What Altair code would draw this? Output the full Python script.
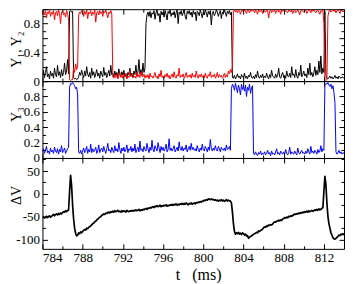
import altair as alt
import pandas as pd

T_START = 784.0
T_STEP = 0.1

# Y1 (black), in hundredths, one row per ms, sampled every 0.1 ms
y1_black = [
    8, 15, 5, 12, 20, 6, 10, 3, 14, 7,
    11, 4, 18, 9, 6, 22, 8, 13, 5, 16,
    7, 12, 25, 9, 14, 30, 10, 97, 98, 96,
    97, 5, 3, 4, 2, 3, 6, 12, 8, 15,
    9, 5, 14, 7, 20, 10, 6, 12, 4, 18,
    8, 13, 5, 10, 16, 7, 11, 4, 14, 9,
    6, 19, 8, 12, 5, 10, 15, 7, 22, 9,
    11, 6, 14, 8, 12, 5, 17, 9, 7, 13,
    8, 15, 6, 10, 4, 12, 9, 18, 7, 11,
    5, 14, 9, 22, 7, 12, 30, 10, 16, 8,
    25, 12, 18, 80, 92, 96, 90, 97, 88, 95,
    93, 98, 86, 95, 99, 91, 94, 82, 97, 92,
    96, 89, 98, 93, 85, 97, 94, 99, 90, 95,
    92, 97, 88, 95, 99, 80, 96, 93, 98, 91,
    95, 99, 90, 86, 97, 94, 98, 92, 96, 89,
    98, 93, 96, 84, 97, 95, 91, 99, 94, 88,
    96, 92, 99, 95, 89, 97, 93, 98, 78, 95,
    97, 91, 94, 99, 96, 90, 95, 98, 87, 96,
    93, 99, 95, 90, 97, 94, 98, 92, 96, 5,
    4, 8, 3, 6, 10, 5, 7, 3, 9, 6,
    5, 11, 4, 7, 3, 8, 6, 12, 5, 4,
    7, 3, 9, 5, 14, 6, 4, 8, 5, 10,
    4, 7, 5, 11, 6, 3, 9, 5, 15, 7,
    6, 4, 10, 5, 8, 18, 6, 4, 9, 12,
    5, 8, 4, 14, 7, 6, 11, 5, 20, 8,
    10, 5, 16, 7, 4, 12, 8, 22, 6, 9,
    14, 7, 10, 5, 18, 9, 25, 8, 12, 6,
    11, 20, 8, 15, 9, 28, 12, 35, 10, 18,
    12, 97, 8, 4, 3, 5, 7, 4, 6, 3,
    5, 8, 4, 6, 3, 7, 5, 4, 6, 5,
    4,
]

# Y2 (red), in hundredths
y2_red = [
    95, 97, 92, 98, 88, 96, 94, 99, 90, 96,
    93, 98, 85, 95, 97, 91, 99, 94, 80, 96,
    97, 92, 95, 89, 98, 94, 85, 2, 1, 2,
    2, 18, 12, 24, 16, 21, 92, 96, 94, 98,
    95, 90, 97, 93, 99, 87, 96, 94, 98, 91,
    96, 93, 99, 82, 95, 97, 92, 98, 94, 96,
    90, 97, 95, 99, 93, 88, 96, 94, 98, 93,
    6, 4, 8, 5, 10, 3, 7, 12, 5, 8,
    4, 9, 6, 11, 3, 7, 5, 14, 6, 8,
    10, 5, 7, 4, 12, 6, 9, 5, 13, 7,
    6, 10, 4, 8, 5, 9, 3, 11, 6, 7,
    4, 8, 12, 5, 7, 3, 10, 6, 15, 5,
    7, 4, 9, 6, 11, 5, 8, 3, 7, 10,
    5, 13, 6, 4, 9, 7, 18, 5, 8, 6,
    10, 4, 7, 12, 5, 8, 6, 9, 4, 11,
    6, 8, 5, 14, 7, 4, 9, 6, 10, 5,
    8, 5, 11, 6, 4, 9, 7, 13, 5, 8,
    6, 10, 4, 7, 12, 5, 9, 6, 8, 4,
    7, 11, 5, 9, 6, 14, 10, 16, 12, 20,
    97, 99, 96, 98, 95, 99, 97, 93, 98, 99,
    96, 99, 97, 94, 99, 98, 95, 99, 97, 100,
    98, 95, 99, 97, 93, 99, 96, 98, 99, 94,
    99, 97, 96, 99, 98, 88, 97, 99, 95, 98,
    97, 99, 94, 98, 99, 96, 98, 93, 99, 97,
    99, 96, 98, 97, 95, 99, 98, 96, 99, 94,
    98, 99, 95, 97, 99, 96, 92, 98, 99, 97,
    96, 98, 99, 94, 97, 99, 98, 95, 99, 97,
    99, 97, 95, 98, 99, 96, 93, 98, 97, 99,
    80, 2, 1, 2, 90, 97, 99, 96, 98, 99,
    97, 99, 95, 98, 99, 97, 94, 99, 98, 96,
    98,
]

# Y3 (blue), in hundredths
y3_blue = [
    8, 12, 6, 10, 15, 7, 9, 5, 13, 8,
    10, 6, 14, 9, 7, 12, 5, 11, 8, 16,
    7, 10, 13, 6, 9, 12, 14, 92, 97, 96,
    98, 96, 94, 90, 92, 82, 8, 6, 10, 5,
    9, 13, 7, 10, 15, 6, 11, 8, 18, 7,
    12, 8, 10, 14, 6, 9, 17, 7, 11, 13,
    8, 15, 10, 6, 12, 19, 9, 11, 7, 14,
    10, 7, 16, 9, 12, 8, 20, 11, 6, 13,
    9, 14, 8, 11, 17, 7, 12, 10, 15, 8,
    13, 9, 18, 7, 11, 14, 8, 22, 10, 12,
    8, 15, 11, 9, 19, 12, 7, 14, 10, 23,
    11, 8, 16, 12, 9, 20, 13, 7, 15, 10,
    14, 9, 12, 18, 8, 11, 25, 10, 13, 9,
    12, 16, 8, 11, 14, 9, 21, 12, 10, 15,
    9, 13, 11, 17, 8, 12, 15, 10, 19, 11,
    14, 10, 12, 9, 16, 11, 8, 13, 10, 18,
    11, 9, 15, 12, 8, 14, 10, 24, 12, 9,
    13, 10, 16, 11, 9, 15, 12, 8, 14, 11,
    10, 13, 9, 17, 11, 12, 15, 10, 90, 96,
    94, 88, 97, 91, 85, 95, 90, 82, 96, 89,
    93, 87, 95, 80, 92, 88, 96, 84, 91, 94,
    6, 4, 8, 5, 3, 7, 5, 9, 4, 6,
    5, 8, 4, 6, 10, 5, 7, 3, 9, 5,
    6, 4, 8, 12, 5, 7, 4, 9, 6, 5,
    8, 5, 11, 6, 4, 7, 14, 5, 8, 6,
    5, 9, 6, 4, 13, 7, 5, 8, 10, 6,
    7, 5, 9, 6, 12, 8, 5, 15, 7, 9,
    6, 10, 8, 5, 11, 7, 9, 16, 8, 12,
    10, 95, 97, 96, 98, 95, 93, 96, 90, 94,
    85, 72, 8, 5, 7, 10, 6, 8, 5, 7,
    6,
]

# Delta V (mV)
dv_mV = [
    -52, -50, -53, -51, -49, -52, -50, -48, -51, -49,
    -47, -45, -48, -45, -44, -46, -43, -45, -42, -44,
    -41, -39, -40, -37, -39, -36, -36, 5, 40, 18,
    -25, -55, -75, -86, -92, -90, -85, -87, -83, -85,
    -82, -80, -78, -79, -75, -76, -73, -72, -70, -68,
    -65, -64, -61, -60, -57, -55, -53, -51, -50, -47,
    -46, -44, -45, -42, -43, -41, -40, -42, -39, -40,
    -38, -40, -37, -39, -38, -36, -39, -38, -40, -37,
    -39, -37, -38, -40, -36, -38, -39, -37, -38, -36,
    -38, -36, -37, -35, -37, -36, -34, -37, -35, -36,
    -34, -35, -33, -32, -34, -31, -32, -30, -31, -29,
    -28, -30, -27, -28, -26, -28, -27, -25, -28, -26,
    -27, -25, -26, -24, -27, -25, -26, -24, -25, -23,
    -25, -23, -24, -22, -25, -23, -24, -22, -23, -21,
    -23, -21, -23, -20, -22, -24, -21, -22, -20, -23,
    -21, -20, -22, -19, -20, -18, -19, -17, -18, -16,
    -16, -14, -15, -13, -14, -11, -12, -13, -11, -13,
    -12, -14, -13, -15, -14, -16, -14, -15, -13, -16,
    -14, -16, -15, -13, -16, -14, -15, -16, -20, -40,
    -65, -82, -88, -85, -87, -84, -88, -86, -89, -85,
    -87, -90, -88, -92, -91, -97, -95, -93, -92, -90,
    -88, -87, -86, -84, -85, -81, -82, -80, -79, -77,
    -74, -72, -73, -70, -71, -68, -69, -67, -68, -66,
    -63, -61, -62, -60, -59, -58, -59, -57, -58, -55,
    -54, -52, -53, -51, -52, -49, -50, -48, -49, -47,
    -46, -44, -45, -43, -44, -42, -43, -41, -42, -40,
    -41, -39, -40, -38, -40, -37, -39, -38, -36, -38,
    -37, -35, -36, -34, -36, -33, -35, -34, -32, -30,
    5, 38, 20, -20, -49, -65, -75, -85, -90, -96,
    -98, -99, -97, -95, -93, -90, -91, -88, -89, -87,
    -90,
]

x_major = [784, 788, 792, 796, 800, 804, 808, 812]
x_minor = [786, 790, 794, 798, 802, 806, 810, 814]
y_major = [0, 0.2, 0.4, 0.6, 0.8, 1]
y_minor = [0.1, 0.3, 0.5, 0.7, 0.9]
dv_major = [-100, -50, 0, 50]
dv_minor = [-75, -25, 25, 75]

n = len(dv_mV)
df = pd.DataFrame({
    "t": [round(T_START + T_STEP * i, 1) for i in range(n)],
    "Y1": [v / 100 for v in y1_black],
    "Y2": [v / 100 for v in y2_red],
    "Y3": [v / 100 for v in y3_blue],
    "dV": dv_mV,
})

W = 302
FONT = "Liberation Serif"
MAJ = 5
MIN = 3


def panel(fields_colors, ydom, ymaj, ymin, h, ytitle, title_y, label_expr,
          show_x, label_offset=None, line_w=1.0):
    xs = alt.Scale(domain=[784, 814], nice=False, zero=False)
    ys = alt.Scale(domain=ydom, nice=False, zero=False)
    f0 = fields_colors[0][0]
    tick_axis = dict(domain=False, grid=False, labels=False, title=None,
                     tickColor="black", tickWidth=1, zindex=1)

    left_kwargs = dict(orient="left", values=ymaj, tickSize=MAJ, offset=-MAJ,
                       domain=False, grid=False, labelExpr=label_expr,
                       labelPadding=3, title=ytitle, titleX=-26.5,
                       titleY=title_y, titleBaseline="alphabetic",
                       titleAngle=270, tickColor="black", zindex=1)
    if label_offset is not None:
        left_kwargs["labelOffset"] = label_offset
    if show_x:
        bottom_major = alt.Axis(orient="bottom", values=x_major, tickSize=MAJ,
                                offset=-MAJ, domain=False, grid=False,
                                labelExpr="'' + datum.value", labelPadding=3,
                                title="t\u00a0\u00a0\u00a0(ms)", titleFontSize=16,
                                titleX=156, titleY=35.5, titleBaseline="alphabetic",
                                tickColor="black", zindex=1)
    else:
        bottom_major = alt.Axis(orient="bottom", values=x_major, tickSize=MAJ,
                                offset=-MAJ, **tick_axis)

    specs = [
        (bottom_major, alt.Axis(**left_kwargs)),
        (alt.Axis(orient="bottom", values=x_minor, tickSize=MIN, offset=-MIN, **tick_axis),
         alt.Axis(orient="left", values=ymin, tickSize=MIN, offset=-MIN, **tick_axis)),
        (alt.Axis(orient="top", values=x_major, tickSize=MAJ, offset=-MAJ, **tick_axis),
         alt.Axis(orient="right", values=ymaj, tickSize=MAJ, offset=-MAJ, **tick_axis)),
        (alt.Axis(orient="top", values=x_minor, tickSize=MIN, offset=-MIN, **tick_axis),
         alt.Axis(orient="right", values=ymin, tickSize=MIN, offset=-MIN, **tick_axis)),
    ]
    layers = []
    for xa, ya in specs:
        layers.append(
            alt.Chart(df).mark_line(opacity=0).encode(
                x=alt.X("t:Q", scale=xs, axis=xa),
                y=alt.Y(f"{f0}:Q", scale=ys, axis=ya),
            )
        )
    for field, color in fields_colors:
        layers.append(
            alt.Chart(df).mark_line(color=color, strokeWidth=line_w, clip=True,
                                    strokeJoin="round").encode(
                x=alt.X("t:Q", scale=xs, axis=None),
                y=alt.Y(f"{field}:Q", scale=ys, axis=None),
            )
        )
    return alt.layer(*layers).resolve_axis(x="independent", y="independent").properties(
        width=W, height=h)


p1 = panel([("Y1", "#000000"), ("Y2", "#ff0000")], [0, 1], y_major, y_minor, 72,
           "Y\u2081, Y\u2082", 40, "'' + datum.value", False,
           label_offset={"condition": {"test": "datum.value == 1", "value": 4}, "value": 0})
p2 = panel([("Y3", "#0000ff")], [0, 1], y_major, y_minor, 77,
           "Y\u2083", 33, "datum.value == 1 ? '' : '' + datum.value", False)
p3 = panel([("dV", "#000000")], [-120, 78], dv_major, dv_minor, 91,
           "\u0394V", 37, "'' + datum.value", True, line_w=1.7,
           label_offset={"condition": {"test": "datum.value == 50", "value": 1}, "value": 0})

chart = alt.vconcat(p1, p2, p3, spacing=0, bounds="flush").properties(
    padding={"left": 1.5, "top": 0, "right": 0, "bottom": 0}
).configure_view(
    stroke="black", strokeWidth=1
).configure_axis(
    labelFont=FONT, labelFontSize=13, labelColor="black",
    titleFont=FONT, titleFontSize=14, titleColor="black", titleFontWeight="normal",
)

chart.save("out.html", embed_options={"renderer": "svg", "actions": False})
